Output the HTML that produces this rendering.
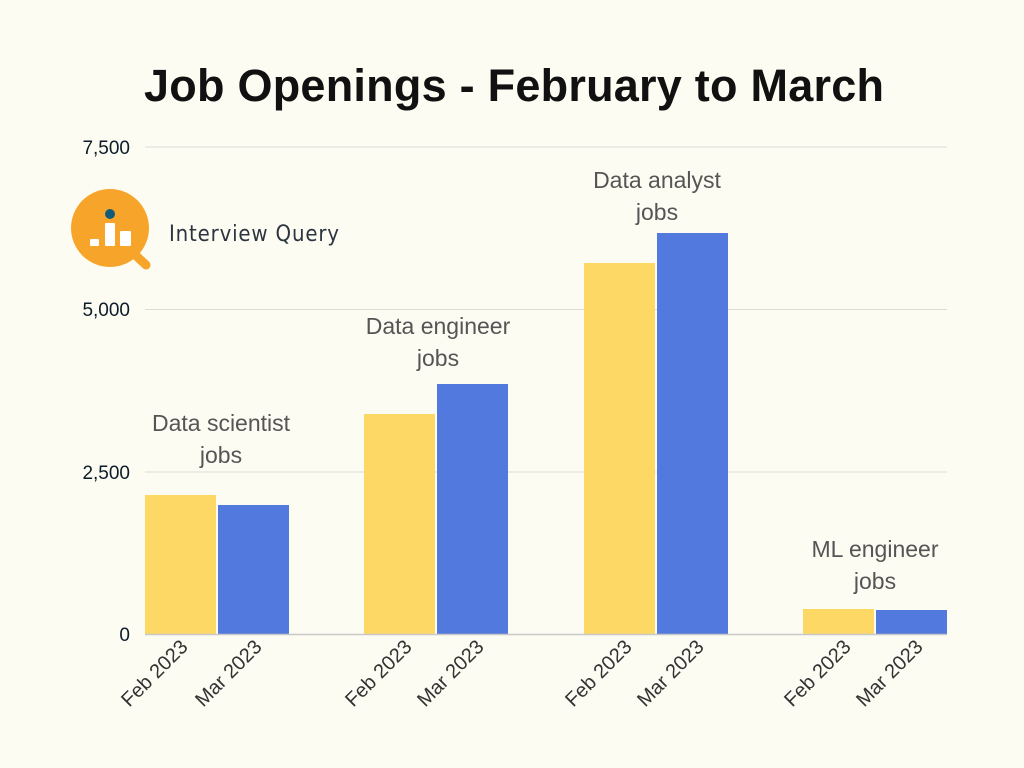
<!DOCTYPE html>
<html><head><meta charset="utf-8"><style>
body{margin:0;background:#fcfcf3;}
svg{display:block}
</style></head><body>
<svg width="1024" height="768" xmlns="http://www.w3.org/2000/svg">
<rect width="1024" height="768" fill="#fcfcf3"/>
<text x="514" y="101" text-anchor="middle" font-family="Liberation Sans, sans-serif" font-weight="bold" font-size="45" fill="#111" textLength="740">Job Openings - February to March</text>
<g stroke="#dcdcd4" stroke-width="1">
<line x1="145" y1="147" x2="947" y2="147"/>
<line x1="145" y1="309.5" x2="947" y2="309.5"/>
<line x1="145" y1="472" x2="947" y2="472"/>
</g>
<g font-family="Liberation Sans, sans-serif" font-size="19" fill="#0d1b2a" text-anchor="end">
<text x="130" y="154">7,500</text>
<text x="130" y="316">5,000</text>
<text x="130" y="479">2,500</text>
<text x="130" y="641">0</text>
</g>
<g fill="#fdd865">
<rect x="145" y="495" width="71" height="139"/>
<rect x="364" y="414" width="71" height="220"/>
<rect x="584" y="263" width="71" height="371"/>
<rect x="803" y="609" width="71" height="25"/>
</g>
<g fill="#5279de">
<rect x="218" y="505" width="71" height="129"/>
<rect x="437" y="384" width="71" height="250"/>
<rect x="657" y="233" width="71" height="401"/>
<rect x="876" y="610" width="71" height="24"/>
</g>
<line x1="145" y1="634.5" x2="947" y2="634.5" stroke="#c8c8c8" stroke-width="1.5"/>
<g font-family="Liberation Sans, sans-serif" font-size="23" fill="#555" text-anchor="middle">
<text x="221" y="431">Data scientist</text><text x="221" y="463">jobs</text>
<text x="438" y="334">Data engineer</text><text x="438" y="366">jobs</text>
<text x="657" y="188">Data analyst</text><text x="657" y="220">jobs</text>
<text x="875" y="557">ML engineer</text><text x="875" y="589">jobs</text>
</g>
<g font-family="Liberation Sans, sans-serif" font-size="20" fill="#333" text-anchor="end">
<text transform="translate(189,648) rotate(-45)">Feb 2023</text>
<text transform="translate(263,648) rotate(-45)">Mar 2023</text>
<text transform="translate(413,648) rotate(-45)">Feb 2023</text>
<text transform="translate(485,648) rotate(-45)">Mar 2023</text>
<text transform="translate(633,648) rotate(-45)">Feb 2023</text>
<text transform="translate(705,648) rotate(-45)">Mar 2023</text>
<text transform="translate(852,648) rotate(-45)">Feb 2023</text>
<text transform="translate(924,648) rotate(-45)">Mar 2023</text>
</g>
<g>
<line x1="130" y1="250" x2="146" y2="265" stroke="#f6a52a" stroke-width="9" stroke-linecap="round"/>
<circle cx="110" cy="228" r="39" fill="#f6a52a"/>
<circle cx="110" cy="214" r="5" fill="#0f5b78"/>
<rect x="90" y="239" width="9" height="7" fill="#fff" rx="1"/>
<rect x="105" y="223" width="10" height="23" fill="#fff" rx="1"/>
<rect x="120" y="231" width="11" height="15" fill="#fff" rx="1"/>
</g>
<text x="169" y="241" font-family="DejaVu Sans Condensed, Liberation Sans Narrow, sans-serif" font-size="22" fill="#2c3440" textLength="170">Interview Query</text>
</svg>
</body></html>
